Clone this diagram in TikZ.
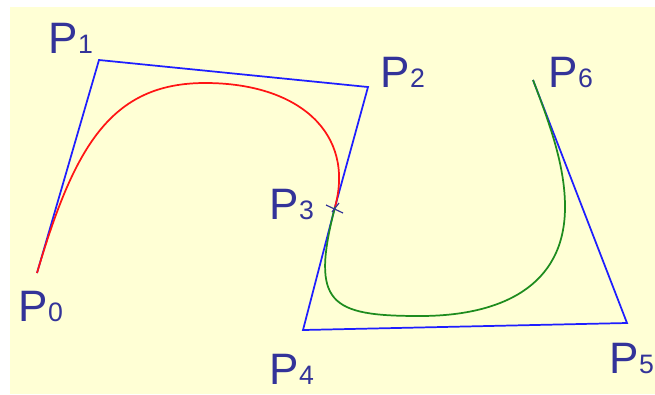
\documentclass[tikz,border=0pt]{standalone}
\usepackage{fontspec}
\setmainfont{Liberation Sans}
\usepackage{tikz}
\usetikzlibrary{calc}
\definecolor{paper}{RGB}{255,255,213}
\definecolor{labelblue}{RGB}{51,51,153}
\definecolor{polyblue}{RGB}{30,30,255}
\definecolor{curvered}{RGB}{255,20,20}
\definecolor{curvegreen}{RGB}{30,140,30}
\newcommand{\ptname}[1]{{\fontsize{33}{33}\selectfont P}{\fontsize{20}{20}\selectfont #1}}
\tikzset{
    ctrlpoly/.style={
        draw=polyblue, line width=1.3pt, line join=miter
    },
    bezseg/.style={
        line width=1.3pt, line join=round
    },
    ptlabel/.style={
        anchor=base west, inner sep=0pt, text=labelblue
    },
    joinmark/.style={
        draw=labelblue, line width=0.9pt
    }
}

\begin{document}
\begin{tikzpicture}[x=0.75pt, y=-0.75pt]
    \useasboundingbox (0,0) rectangle (655,394);
    \fill[paper] (10,7) rectangle (655,394);

    % control points
    \coordinate (p0) at (37,273);
    \coordinate (p1) at (99,60);
    \coordinate (p2) at (368,87);
    \coordinate (p3) at (335,207);
    \coordinate (p4) at (303,330);
    \coordinate (p5) at (627,323);
    \coordinate (p6) at (533,80);

    % control polygon
    \draw[ctrlpoly] (p0) -- (p1) -- (p2) -- (p3) -- (p4) -- (p5) -- (p6);

    % first curve
    \draw[bezseg, curvered] (p0) .. controls (74,148) and (110,83) .. (205,83)
        .. controls (300,83) and (355,134) .. (p3);

    % second curve
    \draw[bezseg, curvegreen] (p3) .. controls (310,304) and (330,316) .. (420,316)
        .. controls (500,316) and (565,287) .. (565,207)
        .. controls (565,167) and (551,127) .. (p6);

    % joint mark
    \draw[joinmark] ($(p3)+(-9,-2)$) -- ($(p3)+(8,6)$);
    \draw[joinmark] ($(p3)+(4,-4)$) -- ($(p3)+(-3,5)$);

    % labels
    \node[ptlabel] (lp0) at (18.5,321) {\ptname{0}};
    \node[ptlabel] (lp1) at (48.5,53)  {\ptname{1}};
    \node[ptlabel] (lp2) at (380.5,87) {\ptname{2}};
    \node[ptlabel] (lp3) at (269.5,219) {\ptname{3}};
    \node[ptlabel] (lp4) at (269.5,384) {\ptname{4}};
    \node[ptlabel] (lp5) at (609.5,373) {\ptname{5}};
    \node[ptlabel] (lp6) at (548.5,87) {\ptname{6}};
\end{tikzpicture}
\end{document}
